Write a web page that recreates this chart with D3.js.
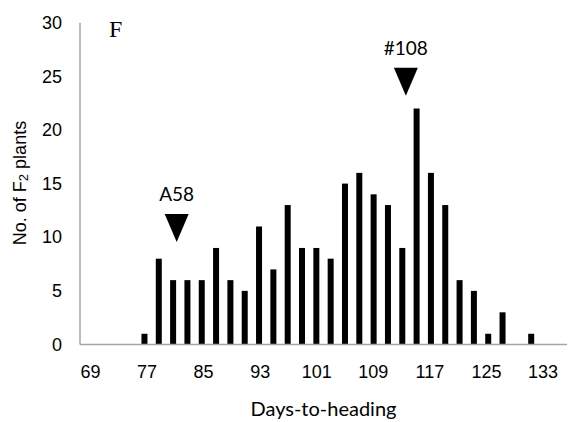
<!DOCTYPE html>
<html><head><meta charset="utf-8">
<script src="https://cdn.jsdelivr.net/npm/d3@7"></script>
<style>body{margin:0;background:#fff}</style>
</head><body>
<svg id="c" width="568" height="422"></svg>
<script>
const days   = [77,79,81,83,85,87,89,91,93,95,97,99,101,103,105,107,109,111,113,115,117,119,121,123,125,127,129,131];
const counts = [1,8,6,6,6,9,6,5,11,7,13,9,9,8,15,16,14,13,9,22,16,13,6,5,1,3,0,1];
const xTicks = [69,77,85,93,101,109,117,125,133];
const yTicks = [0,5,10,15,20,25,30];
const markerLabels = ["A58","#108"];
const markerDays = [81.5,113.5];
const markerTips = [9.55,23.2];

const svg = d3.select("#c");
const x = d3.scaleLinear().domain([68,136]).range([80,567]);
const y = d3.scaleLinear().domain([0,30]).range([344.5,22.7]);

// bars
svg.selectAll("rect.bar").data(days.map((d,i)=>({d,v:counts[i]})).filter(e=>e.v>0))
  .enter().append("rect")
  .attr("x",e=>x(e.d)-3).attr("width",6)
  .attr("y",e=>y(e.v)).attr("height",e=>y(0)-y(e.v))
  .attr("fill","#000");

// axes
const xAxis = d3.axisBottom(x).tickValues(xTicks).tickSize(0).tickPadding(21);
const gx = svg.append("g").attr("transform",`translate(0,${y(0)})`).call(xAxis);
gx.select(".domain").remove();
gx.selectAll("text").attr("font-family","Liberation Sans, Arial, sans-serif").attr("font-size",18).attr("fill","#000")
  .attr("dx", (d)=> (100-d)*0.09);
svg.append("line").attr("x1",80).attr("x2",567).attr("y1",y(0)).attr("y2",y(0)).attr("stroke","#a6a6a6").attr("stroke-width",1.5);

const yAxis = d3.axisLeft(y).tickValues(yTicks).tickSize(0).tickPadding(18);
const gy = svg.append("g").attr("transform","translate(80,0)").call(yAxis);
gy.select(".domain").remove();
gy.selectAll("text").attr("font-family","Liberation Sans, Arial, sans-serif").attr("font-size",18).attr("fill","#000");
svg.append("line").attr("x1",80).attr("x2",80).attr("y1",y(30)).attr("y2",y(0)).attr("stroke","#a6a6a6").attr("stroke-width",1.5);

// titles
svg.append("text").attr("x",323.5).attr("y",416).attr("text-anchor","middle")
  .attr("font-family","Lato, sans-serif").attr("font-size",20).text("Days-to-heading");
const yt = svg.append("text").attr("transform","translate(26,183) rotate(-90)").attr("text-anchor","middle")
  .attr("font-family","Liberation Sans, Arial, sans-serif").attr("font-size",18);
yt.append("tspan").text("No. of F");
yt.append("tspan").attr("font-size",13).attr("dy",2).text("2");
yt.append("tspan").attr("dy",-2).text(" plants");

svg.append("text").attr("x",109).attr("y",36.5).attr("font-family","Liberation Serif, Times New Roman, serif").attr("font-size",24).text("F");

// markers
markerDays.forEach((d,i)=>{
  const cx = x(d), tip = y(markerTips[i]);
  const top = tip - 28;
  svg.append("path").attr("d",`M${cx-12},${top}L${cx+12},${top}L${cx},${tip}Z`).attr("fill","#000");
  svg.append("text").attr("x",cx).attr("y",top-13).attr("text-anchor","middle")
    .attr("font-family","Lato, sans-serif").attr("font-size",19).text(markerLabels[i]);
});
</script>
</body></html>
